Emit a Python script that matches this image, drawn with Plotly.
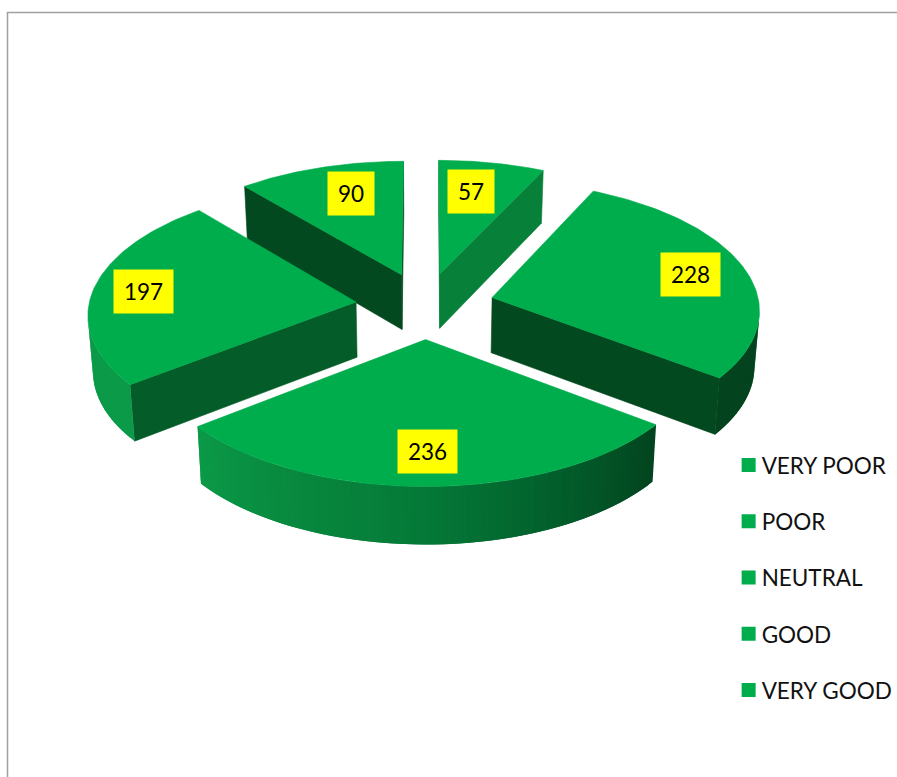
import numpy as np
import plotly.graph_objects as go

# ---- data ----
categories = ["VERY POOR", "POOR", "NEUTRAL", "GOOD", "VERY GOOD"]
values = [57, 228, 236, 197, 90]

# ---- style ----
TOP = "#00AD4D"
RADIAL_WALL = ["#07803A", "#03491F", "#03491F", "#045C28", "#03491F"]
SHADE_ANGLES = [90, 127, 155, 180, 205, 232, 275]
SHADE_RGB = [(3, 68, 31), (3, 68, 31), (2, 96, 44), (5, 122, 56), (8, 136, 62), (11, 154, 72), (11, 154, 72)]
FONT = "Lato"
FS = 22.5
LABEL_R = [0.72, 0.785, 0.78, 0.81, 0.73]
LABEL_TURN = [-2.3, 0.0, 0.0, 0.0, 3.4]

# ---- projection ----
CX, CY, DIST, SX, SY, EXPLODE = 425.0, 305.5, 11.7, 3127.0, 1500.0, 0.26
DEPTH_BASE, DEPTH_SLOPE, SHRINK = 55.2, 2.2, 0.015


def project(x, y, z=0.0):
    y = np.asarray(y, dtype=float)
    s = 1.0 / (DIST - y)
    return (CX + SX * np.asarray(x) * s * (1 - SHRINK * z),
            CY + SY * y * s + (DEPTH_BASE + DEPTH_SLOPE * y) * z)


def polar(deg, r=1.0):
    a = np.radians(deg)
    return r * np.sin(a), -r * np.cos(a)


def shade(deg):
    d = np.clip(deg, SHADE_ANGLES[0], SHADE_ANGLES[-1])
    rgb = [np.interp(d, SHADE_ANGLES, [c[i] for c in SHADE_RGB]) for i in range(3)]
    return "rgb(%d,%d,%d)" % tuple(rgb)


def area(px, py):
    return 0.5 * np.sum(px * np.roll(py, -1) - np.roll(px, -1) * py)


fig = go.Figure()


def poly(px, py, color, lw=0.6):
    fig.add_trace(go.Scatter(
        x=np.append(px, px[0]), y=np.append(py, py[0]), mode="lines", fill="toself",
        fillcolor=color, line=dict(color=color, width=lw),
        hoverinfo="skip", showlegend=False))


def wall(x0, y0, x1, y1, color, lw=0.6):
    xs = np.array([x0, x1, x1, x0])
    ys = np.array([y0, y1, y1, y0])
    zs = np.array([0.0, 0.0, 1.0, 1.0])
    px, py = zip(*[project(a, b, c) for a, b, c in zip(xs, ys, zs)])
    px, py = np.array(px), np.array(py)
    # cull faces turned away from the viewer
    if area(px, py) < 0:
        poly(px, py, color, lw)


# angular spans from the values, clockwise from twelve o'clock
total = sum(values)
edges = np.concatenate([[0.0], np.cumsum(values) / total * 360.0])
slices = []
for i, v in enumerate(values):
    a0, a1 = edges[i], edges[i + 1]
    mid = (a0 + a1) / 2
    ox, oy = polar(mid, EXPLODE)
    slices.append(dict(i=i, v=v, a0=a0, a1=a1, mid=mid, ox=ox, oy=oy))

# painter's order: back to front
for s in sorted(slices, key=lambda t: t["oy"]):
    a0, a1, ox, oy = s["a0"], s["a1"], s["ox"], s["oy"]
    col = RADIAL_WALL[s["i"]]
    sx, sy = polar(a0)
    ex, ey = polar(a1)
    wall(ox, oy, ox + sx, oy + sy, col)
    wall(ox + ex, oy + ey, ox, oy, col)
    # outer wall: narrow strips, each overlapping the next to avoid seams
    steps = np.arange(a0, a1 + 1.5, 1.5)
    steps[-1] = a1
    n = len(steps) - 1
    for k in range(n):
        b0, b1 = steps[k], steps[min(k + 2, n)]
        x0, y0 = polar(b0)
        x1, y1 = polar(b1)
        if (y0 + y1) / 2 > -0.02:
            wall(ox + x0, oy + y0, ox + x1, oy + y1, shade(steps[k] + 0.75), lw=0)
    # top face
    arc = np.linspace(a0, a1, 90)
    ax, ay = polar(arc)
    tx = np.concatenate([[ox], ox + ax])
    ty = np.concatenate([[oy], oy + ay])
    px, py = project(tx, ty)
    poly(np.asarray(px), np.asarray(py), TOP)

# value labels
for s in slices:
    lx, ly = polar(s["mid"] + LABEL_TURN[s["i"]], LABEL_R[s["i"]])
    px, py = project(s["ox"] + lx, s["oy"] + ly)
    txt = str(s["v"])
    fig.add_annotation(x=float(px), y=float(py), text=txt, showarrow=False,
                       font=dict(family=FONT, size=FS, color="black"),
                       bgcolor="#FFFF00", width=18 + 13 * len(txt), height=41)

# legend
for c in categories:
    fig.add_trace(go.Scatter(x=[None], y=[None], mode="markers", name=c, legendgroup=c,
                             marker=dict(symbol="square", size=14, color=TOP)))

fig.update_layout(
    width=897, height=777, margin=dict(l=0, r=0, t=0, b=0, autoexpand=False),
    paper_bgcolor="white", plot_bgcolor="white",
    xaxis=dict(range=[0, 897], visible=False, fixedrange=True),
    yaxis=dict(range=[777, 0], visible=False, fixedrange=True),
    legend=dict(x=0.8123, y=0.4286, xanchor="left", yanchor="top", traceorder="grouped",
                tracegroupgap=24, itemwidth=30, bgcolor="rgba(0,0,0,0)",
                font=dict(family=FONT, size=FS, color="#111111")),
    shapes=[dict(type="path", path="M 7.5 777 L 7.5 12.5 L 897 12.5", xref="x", yref="y",
                 line=dict(color="#A0A0A0", width=1.5), layer="below")],
)
# tighten the gap between legend swatch and legend text
POST = """document.body.style.margin='0';
document.querySelectorAll('.legendtext').forEach(function(t){
  t.setAttribute('x', parseFloat(t.getAttribute('x')) - 7);
});"""
fig.write_html("out.html", post_script=POST, config={"displayModeBar": False})
